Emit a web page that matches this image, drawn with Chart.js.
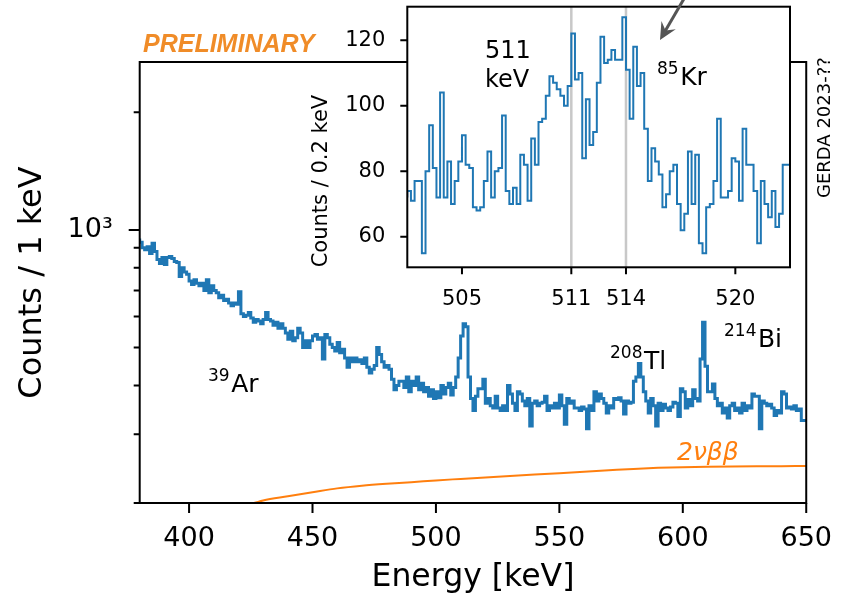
<!DOCTYPE html>
<html>
<head>
<meta charset="utf-8">
<script src="https://cdn.jsdelivr.net/npm/chart.js@4.4.0/dist/chart.umd.min.js"></script>
<style>
  html, body { margin: 0; padding: 0; background: #fff; }
  #wrap { position: relative; width: 852px; height: 597px; overflow: hidden; }
  #mainChart { position: absolute; left: 0; top: 0; }
  #insetChart { position: absolute; left: 300px; top: -40px; }
</style>
</head>
<body>
<div id="wrap">
  <canvas id="mainChart" width="852" height="597"></canvas>
  <canvas id="insetChart" width="500" height="360"></canvas>
</div>
<script>
// main spectrum, 1 keV bins starting at 380 keV
const binStart = 380;
const binWidth = 1;
const countsPerKeV = [
  950, 930, 900, 890, 905, 870, 925, 880, 840, 820,
  850, 815, 850, 855, 845, 830, 825, 760, 800, 780,
  770, 740, 725, 745, 730, 720, 730, 700, 745, 690,
  720, 700, 690, 670, 680, 660, 665, 650, 640, 650,
  645, 695, 610, 600, 605, 615, 595, 580, 590, 585,
  575, 590, 615, 590, 585, 570, 580, 560, 575, 560,
  545, 525, 550, 520, 530, 560, 545, 500, 520, 500,
  520, 535, 540, 525, 530, 467, 540, 530, 510, 500,
  490, 515, 485, 495, 470, 445, 470, 460, 470, 460,
  465, 455, 470, 445, 430, 440, 450, 500, 480, 460,
  445, 450, 440, 415, 390, 400, 410, 410, 395, 420,
  385, 410, 400, 420, 390, 405, 385, 395, 375, 390,
  370, 385, 372, 400, 380, 395, 405, 378, 395, 420,
  470, 535, 575, 565, 420, 370, 345, 375, 392, 392,
  415, 360, 370, 355, 350, 375, 350, 345, 355, 345,
  400, 380, 360, 345, 385, 380, 365, 355, 370, 315,
  360, 365, 355, 360, 362, 375, 345, 355, 350, 360,
  350, 378, 355, 318, 370, 360, 365, 350, 350, 345,
  352, 348, 310, 355, 345, 385, 365, 380, 370, 360,
  340, 355, 350, 370, 368, 372, 365, 338, 365, 360,
  362, 410, 420, 455, 420, 385, 365, 340, 370, 355,
  315, 360, 345, 358, 350, 345, 352, 362, 360, 333,
  392, 385, 350, 368, 355, 390, 370, 365, 467, 580,
  448, 385, 385, 403, 370, 355, 360, 340, 350, 330,
  355, 360, 345, 350, 340, 360, 345, 355, 350, 380,
  375, 375, 310, 365, 360, 355, 358, 350, 335, 345,
  340, 385, 380, 350, 352, 348, 355, 345, 348, 325
];

// 2nu double beta expectation
const tnbbEnergy = [420, 430, 440, 450, 460, 470, 480, 490, 500, 510, 520, 530, 540, 550, 560, 570, 580, 590, 600, 610, 620, 630, 640, 650];
const tnbbCounts = [194, 203, 208, 213, 218, 221.5, 224, 226, 228.5, 230.5, 232.5, 234.5, 236.5, 238.5, 240.5, 242.5, 244.5, 246, 247, 247.6, 248, 248.3, 248.5, 248.6];

// inset: 0.2 keV bins from 502 keV
const insetStart = 502;
const insetBinWidth = 0.2;
const insetCounts = [
  72, 74, 71, 77, 77, 55, 80, 94, 81, 72,
  104, 72, 83, 70, 77, 83, 91, 82, 81, 69,
  68, 69, 77, 86, 72, 80, 81, 97, 74, 70,
  75, 70, 85, 82, 71, 90, 82, 95, 96, 103,
  109, 107, 105, 103, 100, 106, 122, 108, 110, 84,
  102, 88, 92, 107, 121, 113, 114, 117, 114, 114,
  127, 111, 96, 118, 106, 110, 93, 77, 87, 83,
  79, 69, 73, 80, 82, 70, 62, 67, 86, 70,
  85, 58, 55, 69, 70, 77, 96, 72, 72, 74,
  84, 83, 71, 93, 82, 82, 74, 58, 77, 70,
  66, 74, 63, 67, 82
];
const markerLines = [511, 514];

const mainXTicks = [400, 450, 500, 550, 600, 650];
const mainYTicks = [200, 300, 400, 500, 600, 700, 800, 900, 1000, 2000];
const mainYMajor = [1000];
const insetXTicks = [505, 511, 514, 520];
const insetYTicks = [60, 80, 100, 120];

const FONT = 'DejaVu Sans';
const BLUE = '#1f77b4';
const ORANGE = '#ff7f0e';
const INSET_DY = 40; // inset canvas sits 40px above the page top

// turn bin contents into step points (left edges + closing edge)
function stepPoints(start, width, counts) {
    const pts = counts.map((c, i) => ({ x: start + i * width, y: c }));
    pts.push({ x: start + counts.length * width, y: counts[counts.length - 1] });
    return pts;
}

const whiteBackground = {
    id: 'whiteBackground',
    beforeDraw(chart, args, opts) {
        const ctx = chart.ctx;
        ctx.save();
        ctx.fillStyle = '#fff';
        if (opts.areaOnly) {
            const a = chart.chartArea;
            ctx.fillRect(a.left, a.top, a.right - a.left, a.bottom - a.top);
        } else {
            ctx.fillRect(0, 0, chart.width, chart.height);
        }
        ctx.restore();
    }
};

// frame + tick marks (matplotlib style, outward)
const tickMarks = {
    id: 'tickMarks',
    afterDraw(chart, args, opts) {
        const ctx = chart.ctx;
        const a = chart.chartArea;
        const xs = chart.scales.x, ys = chart.scales.y;
        ctx.save();
        ctx.strokeStyle = '#000';
        ctx.lineWidth = opts.width;
        ctx.beginPath();
        opts.xTicks.forEach(v => {
            const px = xs.getPixelForValue(v);
            ctx.moveTo(px, a.bottom);
            ctx.lineTo(px, a.bottom + opts.xLen);
        });
        opts.yTicks.forEach(v => {
            const py = ys.getPixelForValue(v);
            const len = opts.yMajor.includes(v) ? opts.yLen : opts.yMinorLen;
            ctx.moveTo(a.left, py);
            ctx.lineTo(a.left - len, py);
        });
        ctx.stroke();
        ctx.strokeRect(a.left, a.top, a.right - a.left, a.bottom - a.top);
        ctx.restore();
    }
};

const markerLinePlugin = {
    id: 'markerLinePlugin',
    beforeDatasetsDraw(chart) {
        const ctx = chart.ctx;
        const a = chart.chartArea;
        ctx.save();
        ctx.strokeStyle = '#c8c8c8';
        ctx.lineWidth = 2.5;
        markerLines.forEach(v => {
            const px = chart.scales.x.getPixelForValue(v);
            ctx.beginPath();
            ctx.moveTo(px, a.top);
            ctx.lineTo(px, a.bottom);
            ctx.stroke();
        });
        ctx.restore();
    }
};

function drawIsotope(ctx, sup, name, x, baseline) {
    ctx.fillStyle = '#000';
    ctx.textAlign = 'left';
    ctx.textBaseline = 'alphabetic';
    ctx.font = '17px "' + FONT + '"';
    ctx.fillText(sup, x, baseline - 11);
    const w = ctx.measureText(sup).width;
    ctx.font = '25px "' + FONT + '"';
    ctx.fillText(name, x + w + 1.5, baseline);
}

const mainText = {
    id: 'mainText',
    afterDraw(chart) {
        const ctx = chart.ctx;
        ctx.save();
        drawIsotope(ctx, '39', 'Ar', 208, 392);
        drawIsotope(ctx, '208', 'Tl', 610, 369);
        drawIsotope(ctx, '214', 'Bi', 724, 347);

        ctx.fillStyle = ORANGE;
        ctx.font = 'italic 25px "' + FONT + '"';
        ctx.fillText('2νββ', 677, 460);

        ctx.fillStyle = '#f08c28';
        ctx.font = 'italic bold 25px "Liberation Sans"';
        ctx.fillText('PRELIMINARY', 143, 52);

        ctx.fillStyle = '#000';
        ctx.font = '18px "' + FONT + '"';
        ctx.translate(830, 198);
        ctx.rotate(-Math.PI / 2);
        ctx.fillText('GERDA 2023-??', 0, 0);
        ctx.restore();
    }
};

const insetText = {
    id: 'insetText',
    afterDraw(chart) {
        const ctx = chart.ctx;
        ctx.save();
        ctx.translate(0, INSET_DY);
        ctx.fillStyle = '#000';
        ctx.textAlign = 'left';
        ctx.font = '24px "' + FONT + '"';
        ctx.fillText('511', 185, 58);
        ctx.fillText('keV', 185, 87);
        drawIsotope(ctx, '85', 'Kr', 357, 85);

        // arrow pointing at the 85Kr region
        const tip = { x: 360, y: 40 };
        const dx = -0.503, dy = 0.864;
        ctx.strokeStyle = '#555';
        ctx.fillStyle = '#555';
        ctx.lineWidth = 3;
        ctx.beginPath();
        ctx.moveTo(tip.x - dx * 70, tip.y - dy * 70);
        ctx.lineTo(tip.x - dx * 6, tip.y - dy * 6);
        ctx.stroke();
        const ang = Math.atan2(-dy, -dx);
        const wing = 19, spread = 0.45;
        ctx.beginPath();
        ctx.moveTo(tip.x, tip.y);
        ctx.lineTo(tip.x + wing * Math.cos(ang + spread), tip.y + wing * Math.sin(ang + spread));
        ctx.lineTo(tip.x - dx * 11, tip.y - dy * 11);
        ctx.lineTo(tip.x + wing * Math.cos(ang - spread), tip.y + wing * Math.sin(ang - spread));
        ctx.closePath();
        ctx.fill();
        ctx.restore();
    }
};

Chart.defaults.font.family = FONT;
Chart.defaults.color = '#000';

var mainChart = new Chart(document.getElementById('mainChart'), {
    type: 'line',
    data: {
        datasets: [{
            data: stepPoints(binStart, binWidth, countsPerKeV),
            stepped: 'after',
            borderColor: BLUE,
            borderWidth: 3,
            pointRadius: 0,
            fill: false
        },
        {
            data: tnbbEnergy.map((e, i) => ({ x: e, y: tnbbCounts[i] })),
            borderColor: ORANGE,
            borderWidth: 2,
            pointRadius: 0,
            cubicInterpolationMode: 'monotone',
            fill: false
        }]
    },
    options: {
        responsive: false,
        animation: false,
        devicePixelRatio: 1,
        layout: { padding: { left: 0, right: 42.5, top: 62, bottom: 0 } },
        plugins: {
            legend: { display: false },
            tooltip: { enabled: false },
            whiteBackground: { areaOnly: false },
            tickMarks: {
                width: 2,
                xTicks: mainXTicks, xLen: 10,
                yTicks: mainYTicks, yMajor: mainYMajor, yLen: 11, yMinorLen: 6
            }
        },
        scales: {
            x: {
                type: 'linear',
                min: 380,
                max: 650,
                grid: { display: false, drawTicks: false },
                border: { display: false },
                afterBuildTicks: s => { s.ticks = mainXTicks.map(v => ({ value: v })); },
                afterFit: s => { s.height = 94; },
                ticks: { font: { size: 27 }, padding: 20, autoSkip: false, maxRotation: 0 },
                title: { display: true, text: 'Energy [keV]', font: { size: 31.5 }, padding: 0 }
            },
            y: {
                type: 'logarithmic',
                min: 200,
                max: 2690,
                grid: { display: false, drawTicks: false },
                border: { display: false },
                afterBuildTicks: s => { s.ticks = mainYTicks.map(v => ({ value: v, major: mainYMajor.includes(v) })); },
                afterFit: s => { s.width = 139.7; },
                ticks: {
                    font: { size: 27 },
                    padding: 27,
                    autoSkip: false,
                    callback: v => (v === 1000 ? '10³' : '')
                },
                title: { display: true, text: 'Counts / 1 keV', font: { size: 32 }, padding: { top: 13, bottom: 0 } }
            }
        }
    },
    plugins: [whiteBackground, tickMarks, mainText]
});

var insetChart = new Chart(document.getElementById('insetChart'), {
    type: 'line',
    data: {
        datasets: [{
            data: stepPoints(insetStart, insetBinWidth, insetCounts),
            stepped: 'after',
            borderColor: BLUE,
            borderWidth: 2,
            pointRadius: 0,
            fill: false
        }]
    },
    options: {
        responsive: false,
        animation: false,
        devicePixelRatio: 1,
        layout: { padding: { left: 0, right: 10, top: 6.7 + INSET_DY, bottom: 0 } },
        plugins: {
            legend: { display: false },
            tooltip: { enabled: false },
            whiteBackground: { areaOnly: true },
            tickMarks: {
                width: 2,
                xTicks: insetXTicks, xLen: 7,
                yTicks: insetYTicks, yMajor: insetYTicks, yLen: 7, yMinorLen: 7
            }
        },
        scales: {
            x: {
                type: 'linear',
                min: 502,
                max: 523,
                grid: { display: false, drawTicks: false },
                border: { display: false },
                afterBuildTicks: s => { s.ticks = insetXTicks.map(v => ({ value: v })); },
                afterFit: s => { s.height = 52.7; },
                ticks: { font: { size: 21 }, padding: 20, autoSkip: false, maxRotation: 0 }
            },
            y: {
                type: 'linear',
                min: 50.7,
                max: 130.2,
                grid: { display: false, drawTicks: false },
                border: { display: false },
                afterBuildTicks: s => { s.ticks = insetYTicks.map(v => ({ value: v })); },
                afterFit: s => { s.width = 107.3; },
                ticks: { font: { size: 21 }, padding: 22, autoSkip: false },
                title: {
                    display: true, text: 'Counts / 0.2 keV', align: 'start',
                    font: { size: 21 }, padding: { top: 9, bottom: 0 }
                }
            }
        }
    },
    plugins: [whiteBackground, markerLinePlugin, tickMarks, insetText]
});
</script>
</body>
</html>
